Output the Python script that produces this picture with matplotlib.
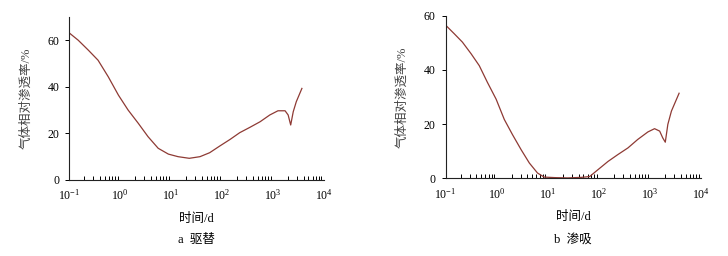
import numpy as np
import matplotlib
matplotlib.use('Agg')
import matplotlib.pyplot as plt

plt.rcParams['font.family'] = ['Liberation Serif', 'Noto Sans CJK SC']
plt.rcParams['mathtext.fontset'] = 'stix'

# -- data --
# lg(time / d) and gas relative permeability (%)
lgt_drain = [-1.0, -0.82, -0.62, -0.43, -0.23, -0.03, 0.16, 0.36, 0.55, 0.75,
             0.95, 1.14, 1.36, 1.57, 1.76, 1.96, 2.16, 2.35, 2.55, 2.75, 2.94,
             3.10, 3.24, 3.30, 3.35, 3.40, 3.46, 3.57]
k_drain = [63.2, 60.0, 55.7, 51.4, 44.3, 36.4, 30.0, 24.3, 18.6, 13.6,
           11.1, 10.0, 9.3, 10.0, 11.7, 14.6, 17.4, 20.3, 22.6, 25.0, 27.9,
           29.7, 29.7, 27.9, 23.6, 29.3, 33.6, 39.3]

lgt_imb = [-1.0, -0.83, -0.67, -0.50, -0.34, -0.18, -0.01, 0.15, 0.31, 0.48,
           0.64, 0.80, 0.93, 1.15, 1.39, 1.66, 1.82, 1.98, 2.18, 2.37, 2.57,
           2.76, 2.96, 3.09, 3.19, 3.25, 3.30, 3.35, 3.42, 3.57]
k_imb = [56.6, 53.4, 50.3, 46.0, 41.6, 35.4, 29.2, 21.7, 16.1, 10.5,
         5.6, 1.9, 0.4, 0.2, 0.1, 0.3, 0.6, 3.1, 6.2, 8.7, 11.2,
         14.3, 17.1, 18.3, 17.4, 14.9, 13.3, 19.9, 24.8, 31.4]

panels = [
    ('a  驱替', lgt_drain, k_drain, (0, 70), [0.0948, 0.297, 0.350, 0.637]),
    ('b  渗吸', lgt_imb, k_imb, (0, 60), [0.612, 0.304, 0.351, 0.634]),
]

line_color = '#8e3a34'

fig = plt.figure(figsize=(7.28, 2.56), dpi=100)

for caption, lgt, k, ylim, rect in panels:
    ax = fig.add_axes(rect)
    ax.plot(10 ** np.array(lgt), k, color=line_color, lw=0.9)
    ax.set_xscale('log')
    ax.set_xlim(0.1, 1e4)
    ax.set_ylim(*ylim)
    ax.set_yticks([0, 20, 40, 60])
    ax.spines['top'].set_visible(False)
    ax.spines['right'].set_visible(False)
    for s in ('left', 'bottom'):
        ax.spines[s].set_linewidth(0.8)
        ax.spines[s].set_color('#222222')
    ax.tick_params(axis='x', which='major', length=0, labelsize=8.5, pad=6)
    ax.tick_params(axis='x', which='minor', direction='in', length=3, width=0.7)
    ax.tick_params(axis='y', which='major', direction='out', length=3, width=0.7,
                   labelsize=8.5, pad=4)
    ax.set_xlabel('时间/d', fontsize=9, labelpad=7)
    ax.set_ylabel('气体相对渗透率/%', fontsize=9, color='#444444', labelpad=11)
    cx = rect[0] + rect[2] / 2
    fig.text(cx, 1 - 240 / 256, caption, ha='center', va='center', fontsize=9)

fig.savefig('out.png', dpi=100)
